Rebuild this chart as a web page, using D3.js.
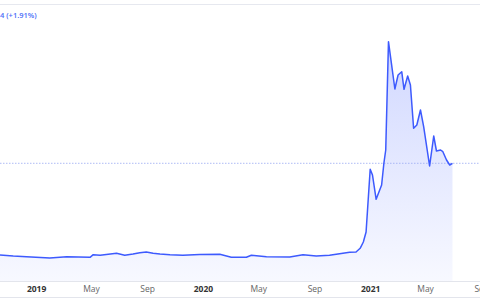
<!DOCTYPE html>
<html>
<head>
<meta charset="utf-8">
<script src="https://cdn.jsdelivr.net/npm/d3@7"></script>
<style>
  body { margin: 0; background: #fff; }
  #chart { width: 480px; height: 300px; }
  text { font-family: "Open Sans", Roboto, sans-serif; }
</style>
</head>
<body>
<div id="chart"></div>
<script>
// price history
const dates = [
  "2018-10-14", "2018-11-12", "2018-12-11", "2019-01-31", "2019-03-09", "2019-04-29",
  "2019-05-06", "2019-05-21", "2019-06-26", "2019-07-14", "2019-08-01", "2019-08-16",
  "2019-08-30", "2019-09-14", "2019-09-29", "2019-10-21", "2019-11-18", "2019-12-25",
  "2020-02-07", "2020-03-03", "2020-04-05", "2020-04-16", "2020-05-19", "2020-07-09",
  "2020-08-07", "2020-09-05", "2020-10-04", "2020-10-26", "2020-11-17", "2020-12-01",
  "2020-12-10", "2020-12-17", "2020-12-23", "2021-01-01", "2021-01-06", "2021-01-14",
  "2021-01-26", "2021-01-31", "2021-02-04", "2021-02-10", "2021-02-24", "2021-03-03",
  "2021-03-11", "2021-03-16", "2021-03-24", "2021-03-30", "2021-04-06", "2021-04-13",
  "2021-04-21", "2021-04-28", "2021-05-11", "2021-05-20", "2021-05-26", "2021-06-04",
  "2021-06-09", "2021-06-17", "2021-06-24", "2021-06-30"
];
const prices = [
  26, 25, 24.3, 23, 24.3, 23.7,
  26.3, 25.7, 27.7, 25.7, 27, 28.3,
  29, 27.7, 27, 26.3, 25.7, 26.5,
  26.7, 23.7, 23.7, 25.7, 24.3, 24,
  26.3, 25, 25.7, 27.3, 28.7, 29,
  32.7, 39, 49, 111.7, 106, 81.7,
  96, 118, 131, 239.3, 192, 206,
  209.3, 191.7, 205, 196, 152.7, 156,
  171, 154.3, 115, 145, 130, 131,
  129.3, 121, 116, 117.7
];
const headerText = "4 (+1.91%)";
const xDomain = ["2018-10-14", "2021-09-07"];
const yDomain = [0, 250];

const width = 480, height = 300;
const parse = d3.timeParse("%Y-%m-%d");
const data = dates.map((d, i) => ({date: parse(d), value: prices[i]}));

const svg = d3.select("#chart").append("svg")
    .attr("width", width)
    .attr("height", height);

// range runs a bit past the right edge so the last Sep tick is cut like in the original
const x = d3.scaleTime()
    .domain(xDomain.map(parse))
    .range([0, 484]);

const y = d3.scaleLinear()
    .domain(yDomain)
    .range([281, 31]);

// top border
svg.append("line")
    .attr("x1", 0).attr("x2", width)
    .attr("y1", 4.5).attr("y2", 4.5)
    .attr("stroke", "#e6e8ef");

svg.append("text")
    .attr("x", 0)
    .attr("y", 18)
    .attr("fill", "#4a6cf7")
    .attr("font-size", "7.5px")
    .attr("font-weight", 600)
    .text(headerText);

// gradient under the line
const peak = d3.max(prices);
const grad = svg.append("defs").append("linearGradient")
    .attr("id", "fillGrad")
    .attr("gradientUnits", "userSpaceOnUse")
    .attr("x1", 0).attr("x2", 0)
    .attr("y1", y(peak)).attr("y2", y(0));
grad.append("stop").attr("offset", "0%").attr("stop-color", "#3d5afe").attr("stop-opacity", 0.24);
grad.append("stop").attr("offset", "100%").attr("stop-color", "#3d5afe").attr("stop-opacity", 0.04);

const area = d3.area()
    .x(d => x(d.date))
    .y0(y(0))
    .y1(d => y(d.value));

const line = d3.line()
    .x(d => x(d.date))
    .y(d => y(d.value));

svg.append("path")
    .datum(data)
    .attr("d", area)
    .attr("fill", "url(#fillGrad)");

// reference line at the latest price
const last = data[data.length - 1].value;
svg.append("line")
    .attr("x1", 0).attr("x2", width)
    .attr("y1", y(last)).attr("y2", y(last))
    .attr("stroke", "#9aabf3")
    .attr("stroke-width", 0.8)
    .attr("stroke-dasharray", "1.5,1.5");

svg.append("path")
    .datum(data)
    .attr("d", line)
    .attr("fill", "none")
    .attr("stroke", "#3d5afe")
    .attr("stroke-width", 1.5)
    .attr("stroke-linejoin", "round");

// x axis
const fmt = d => d.getMonth() === 0 ? d3.timeFormat("%Y")(d) : d3.timeFormat("%b")(d);
const axis = svg.append("g")
    .attr("transform", "translate(0,281)")
    .call(d3.axisBottom(x).ticks(d3.timeMonth.every(4)).tickFormat(fmt).tickSize(0).tickPadding(5));
axis.select(".domain").remove();
axis.selectAll("text")
    .attr("font-size", "8.5px")
    .attr("fill", d => d.getMonth() === 0 ? "#333" : "#666")
    .attr("font-weight", d => d.getMonth() === 0 ? 700 : 400)
    .attr("font-family", "'Open Sans', Roboto, sans-serif");

svg.append("line")
    .attr("x1", 0).attr("x2", width)
    .attr("y1", 281.5).attr("y2", 281.5)
    .attr("stroke", "#e3e5ec");

svg.append("line")
    .attr("x1", 0).attr("x2", width)
    .attr("y1", 297.5).attr("y2", 297.5)
    .attr("stroke", "#e3e5ec");
</script>
</body>
</html>
